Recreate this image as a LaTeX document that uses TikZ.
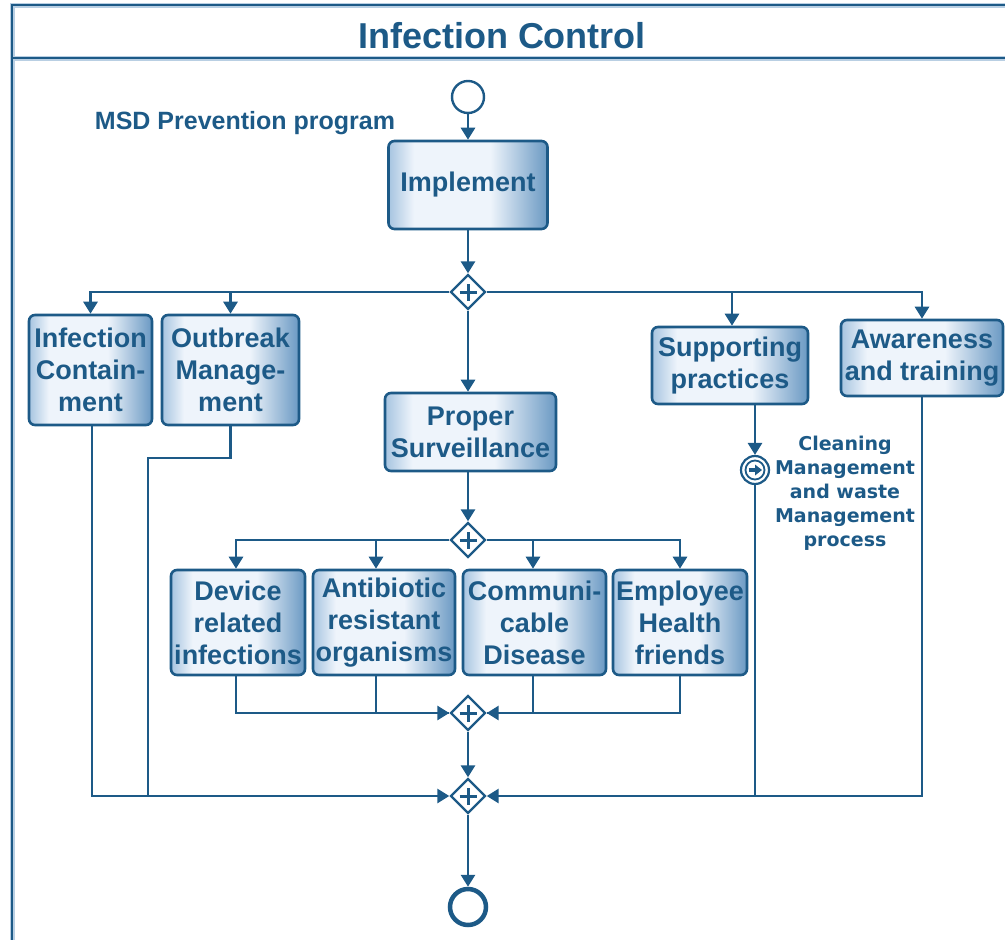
\documentclass[tikz,border=0pt]{standalone}
\usepackage{fontspec}
\setmainfont{Liberation Sans}
\newfontfamily\notefont{DejaVu Sans}
\usetikzlibrary{shapes.geometric,arrows.meta}

\definecolor{ink}{HTML}{1D5A87}
\definecolor{halo}{HTML}{B9CFE3}
\definecolor{edgeL}{HTML}{A6C4E0}
\definecolor{fillM}{HTML}{EEF4FB}
\definecolor{edgeR}{HTML}{6A99C3}

% light interior with darker bands at the left and right edges
\pgfdeclarehorizontalshading{taskfill}{100bp}{color(0bp)=(edgeL); color(25bp)=(edgeL); color(33bp)=(fillM); color(57bp)=(fillM); color(75bp)=(edgeR); color(100bp)=(edgeR)}

\tikzset{
  task/.style={draw=ink, line width=2.6pt, rounded corners=6pt, shade, shading=taskfill,
    align=center, inner sep=0pt, text=ink, font=\fontsize{27}{32}\selectfont\bfseries},
  gate/.style={diamond, draw=ink, line width=2.4pt, fill=white, minimum width=35pt,
    minimum height=35pt, inner sep=0pt,
    path picture={
      \draw[ink, line width=3pt]
        ([yshift=-8.5pt]path picture bounding box.center) -- ([yshift=8.5pt]path picture bounding box.center)
        ([xshift=-8.5pt]path picture bounding box.center) -- ([xshift=8.5pt]path picture bounding box.center);
    }},
  startev/.style={circle, draw=ink, line width=2.4pt, fill=white, minimum size=32pt, inner sep=0pt},
  endev/.style={circle, draw=ink, line width=4.5pt, fill=white, minimum size=36pt, inner sep=0pt},
  midev/.style={circle, draw=ink, line width=2.2pt, fill=white, minimum size=28pt, inner sep=0pt,
    path picture={
      \draw[ink, line width=1.8pt] (path picture bounding box.center) circle (9.5pt);
      \draw[ink, line width=3.2pt] ([xshift=-6.5pt]path picture bounding box.center) -- ([xshift=1pt]path picture bounding box.center);
      \fill[ink] ([xshift=7pt]path picture bounding box.center) -- ([xshift=0pt,yshift=5.5pt]path picture bounding box.center)
        -- ([xshift=0pt,yshift=-5.5pt]path picture bounding box.center) -- cycle;
    }},
  flow/.style={draw=ink, line width=2.8pt, -{Triangle[width=14pt,length=12pt]}},
  link/.style={draw=ink, line width=2.8pt},
  lbl/.style={text=ink, font=\fontsize{25}{30}\selectfont\bfseries, inner sep=0pt},
}

\begin{document}
\begin{tikzpicture}[x=1pt,y=-1pt]
\useasboundingbox (0,0) rectangle (1005,940);

% pool frame and title band
\draw[halo, line width=5pt] (1005,5) -- (12,5) -- (12,940);
\draw[halo, line width=5pt] (12,58) -- (1005,58);
\draw[ink, line width=2.2pt] (1005,5) -- (12,5) -- (12,940);
\draw[ink, line width=2.2pt] (12,58) -- (1005,58);
\node[text=ink, font=\fontsize{36}{40}\selectfont\bfseries] (title) at (502,36) {Infection Control};

% events, gateways and tasks
\node[startev] (start) at (468,97) {};
\node[lbl] (msd) at (245,123) {MSD Prevention program};
\node[task, minimum width=159pt, minimum height=88pt] (impl) at (468,185) {Implement};
\node[gate] (g1) at (468,292) {};

\node[task, minimum width=123pt, minimum height=110pt] (ic) at (90.5,370) {Infection\\Contain-\\ment};
\node[task, minimum width=137pt, minimum height=110pt] (om) at (230.5,370) {Outbreak\\Manage-\\ment};
\node[task, minimum width=156pt, minimum height=77pt] (sp) at (730,365.5) {Supporting\\practices};
\node[task, minimum width=162pt, minimum height=76pt] (aw) at (922,358) {Awareness\\and training};
\node[task, minimum width=171pt, minimum height=78pt] (ps) at (470.5,432) {Proper\\Surveillance};

\node[midev] (ie) at (755,470) {};
\node[text=ink, align=center, inner sep=0pt, font=\notefont\fontsize{19}{24}\selectfont\bfseries] (cm) at (845,493)
  {Cleaning\\Management\\and waste\\Management\\process};

\node[gate] (g2) at (468,540) {};
\node[task, minimum width=134pt, minimum height=105pt] (dr) at (238,622.5) {Device\\related\\infections};
\node[task, minimum width=142pt, minimum height=105pt] (ar) at (384,622.5) {Antibiotic\\resistant\\organisms};
\node[task, minimum width=143pt, minimum height=105pt] (cd) at (534.5,622.5) {Communi-\\cable\\Disease};
\node[task, minimum width=134pt, minimum height=105pt] (eh) at (680,622.5) {Employee\\Health\\friends};

\node[gate] (g3) at (468,713) {};
\node[gate] (g4) at (468,796) {};
\node[endev] (end) at (468,907) {};

\coordinate (omk) at (148,458);

% sequence flows
\draw[flow] (start) -- (impl);
\draw[flow] (impl) -- (g1);
\draw[flow] (g1.west) -| (ic.north);
\draw[flow] (g1.west) -| (om.north);
\draw[flow] (g1.east) -| ([xshift=2pt]sp.north);
\draw[flow] (g1.east) -| (aw.north);
\draw[flow] (g1.south) -- (g1.south |- ps.north);
\draw[flow] (g2.north |- ps.south) -- (g2.north);

\draw[flow] (g2.west) -| ([xshift=-2pt]dr.north);
\draw[flow] (g2.west) -| ([xshift=-8pt]ar.north);
\draw[flow] (g2.east) -| ([xshift=-1.5pt]cd.north);
\draw[flow] (g2.east) -| (eh.north);

\draw[link] ([xshift=-8pt]ar.south) |- (g3.west);
\draw[flow] ([xshift=-2pt]dr.south) |- (g3.west);
\draw[link] ([xshift=-1.5pt]cd.south) |- (g3.east);
\draw[flow] (eh.south) |- (g3.east);
\draw[flow] (g3.south) -- (g4.north);

\draw[link] (om.south) |- (omk) -- (omk |- g4.west);
\draw[flow] ([xshift=1.5pt]ic.south) |- (g4.west);
\draw[flow] (ie.north |- sp.south) -- (ie.north);
\draw[link] (ie.south) -- (ie.south |- g4.east);
\draw[flow] (aw.south) |- (g4.east);
\draw[flow] (g4.south) -- (end.north);
\end{tikzpicture}
\end{document}
